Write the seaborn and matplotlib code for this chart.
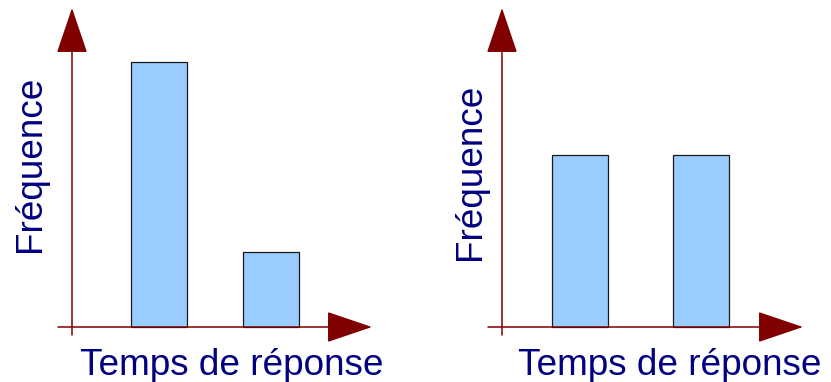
import matplotlib
matplotlib.use("Agg")
import matplotlib.pyplot as plt
import seaborn as sns
import pandas as pd

# Data
categories = ["A", "B"]
left_values = [10.6, 3.0]
right_values = [6.9, 6.9]
x_label = "Temps de réponse"
y_label = "Fréquence"

sns.set_theme(style="white")
plt.rcParams['font.family'] = ['Liberation Sans', 'DejaVu Sans']

W, H = 831, 382
fig = plt.figure(figsize=(W / 100, H / 100), dpi=100)

AX_COLOR = "#800000"
TXT_COLOR = "#000080"
BAR_COLOR = "#99CCFF"
UNIT = 25.0  # px per value unit


def add_panel(values, px_left, px_right, px_yaxis, centers, bar_px, label_cx, ylab_cx, ylab_cy):
    px_top, px_bottom, px_zero = 8, 338, 327
    ax = fig.add_axes([px_left / W, (H - px_bottom) / H,
                       (px_right - px_left) / W, (px_bottom - px_top) / H])
    spacing = centers[1] - centers[0]
    df = pd.DataFrame({"cat": categories, "val": values})
    sns.barplot(data=df, x="cat", y="val", ax=ax, color=BAR_COLOR,
                width=bar_px / spacing, edgecolor="#1a1a1a", linewidth=0.9,
                saturation=1)
    for p in ax.patches:
        p.set_facecolor(BAR_COLOR)
    x0 = (px_left - centers[0]) / spacing
    x1 = (px_right - centers[0]) / spacing
    ax.set_xlim(x0, x1)
    ax.set_ylim(-(px_bottom - px_zero) / UNIT, (px_zero - px_top) / UNIT)
    ax.axis("off")
    xa = (px_yaxis - centers[0]) / spacing
    ybot = -(335 - px_zero) / UNIT
    ytop = (px_zero - px_top) / UNIT
    style = "-|>,head_length=2.45,head_width=0.83"
    ax.annotate("", xy=(x1, 0), xytext=(x0, 0), xycoords="data",
                arrowprops=dict(arrowstyle=style, color=AX_COLOR, lw=1.1,
                                shrinkA=0, shrinkB=0), annotation_clip=False)
    ax.annotate("", xy=(xa, ytop), xytext=(xa, ybot), xycoords="data",
                arrowprops=dict(arrowstyle=style, color=AX_COLOR, lw=1.1,
                                shrinkA=0, shrinkB=0), annotation_clip=False)
    fig.text(label_cx / W, (H - 375) / H, x_label, ha="center", va="baseline",
             fontsize=26.6, color=TXT_COLOR)
    fig.text(ylab_cx / W, (H - ylab_cy) / H, y_label, ha="center", va="center",
             rotation=90, fontsize=26.6, color=TXT_COLOR)
    return ax


add_panel(left_values, 58, 372, 72, [159, 271], 56, 232, 31, 164)
add_panel(right_values, 488, 803, 502, [580, 701], 56, 670, 471, 172)

fig.savefig("out.png", dpi=100)
